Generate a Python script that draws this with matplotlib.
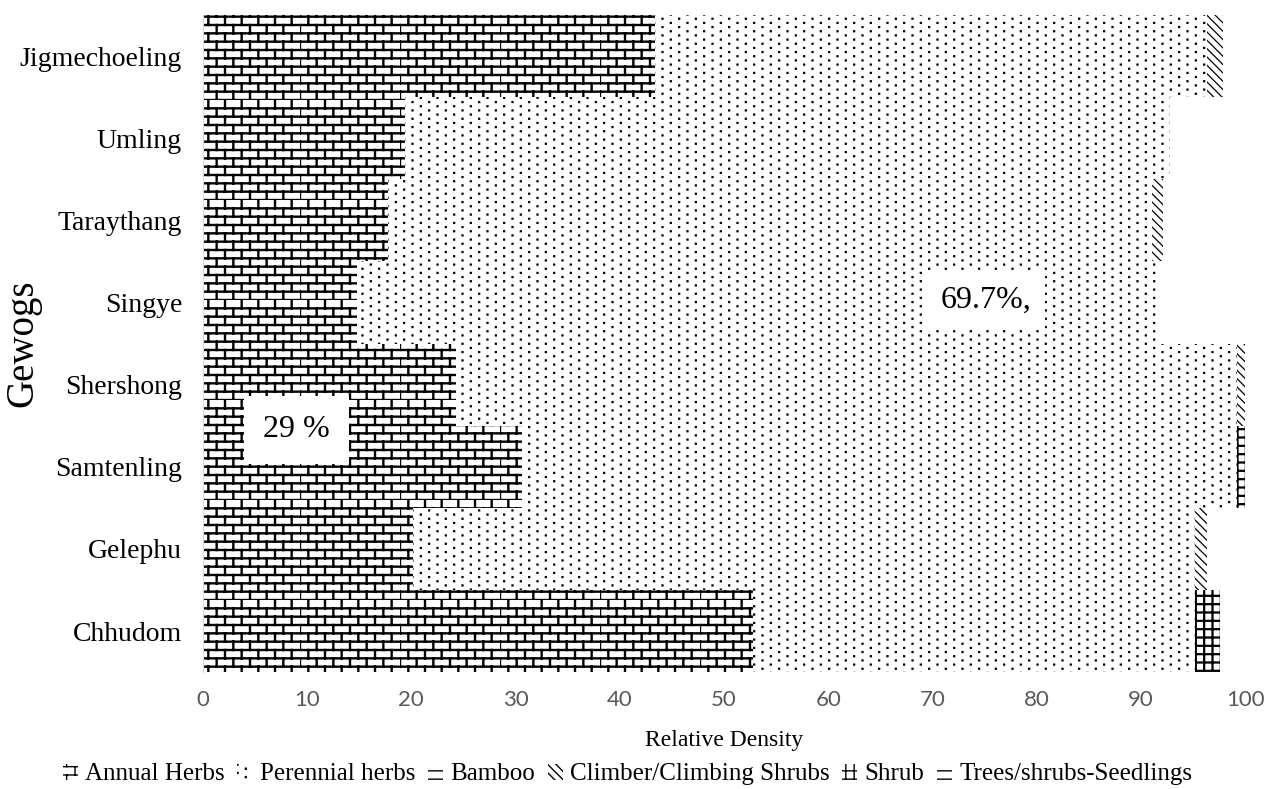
import warnings
import numpy as np
import matplotlib
matplotlib.use('Agg')
import matplotlib.pyplot as plt
from matplotlib import hatch as mhatch
from matplotlib.path import Path

warnings.filterwarnings('ignore')

# data
gewogs = ['Chhudom', 'Gelephu', 'Samtenling', 'Shershong', 'Singye',
          'Taraythang', 'Umling', 'Jigmechoeling']
annual_herbs = [52.8, 20.2, 30.6, 24.3, 14.8, 17.8, 19.4, 43.4]
perennial_herbs = [42.4, 75.0, 68.6, 74.9, 76.9, 73.3, 73.4, 52.9]
bamboo = [0, 0, 0, 0, 0, 0, 0, 0]
climber = [0, 1.1, 0, 0.8, 0, 1.0, 0, 1.6]
shrub = [2.4, 0, 1.0, 0, 0, 0, 0, 0]
seedlings = [0, 0, 0, 0, 0, 0, 0, 0]
x_ticks = [0, 10, 20, 30, 40, 50, 60, 70, 80, 90, 100]


# brick pattern for annual herbs ('b')
class BrickHatch(mhatch.HatchPatternBase):
    def __init__(self, hatch, density):
        self.rows = 12
        self.cols = 6
        on = 'b' in hatch
        self.num_vertices = (2 * self.rows + 2 * self.rows * self.cols) if on else 0

    def set_vertices_and_codes(self, vertices, codes):
        k = 0
        for i in range(self.rows):
            y0 = i / self.rows
            y1 = (i + 1) / self.rows
            vertices[k] = (0, y0)
            vertices[k + 1] = (1, y0)
            codes[k] = Path.MOVETO
            codes[k + 1] = Path.LINETO
            k += 2
            off = 0.5 / self.cols if i % 2 else 0
            for j in range(self.cols):
                x = j / self.cols + off
                vertices[k] = (x, y0)
                vertices[k + 1] = (x, y1)
                codes[k] = Path.MOVETO
                codes[k + 1] = Path.LINETO
                k += 2


# staggered dot pattern for perennial herbs ('p')
class DotHatch(mhatch.HatchPatternBase):
    def __init__(self, hatch, density):
        self.rows = 24
        self.cols = 6
        on = 'p' in hatch
        self.num_vertices = self.rows * self.cols * 5 if on else 0

    def set_vertices_and_codes(self, vertices, codes):
        s = 0.005
        k = 0
        for i in range(self.rows):
            y = (i + 0.5) / self.rows
            off = 0.5 / self.cols if i % 2 else 0
            for j in range(self.cols):
                x = (j + 0.25) / self.cols + off
                vertices[k:k + 5] = [(x - s, y - s), (x + s, y - s),
                                     (x + s, y + s), (x - s, y + s), (x - s, y - s)]
                codes[k:k + 5] = [Path.MOVETO, Path.LINETO, Path.LINETO,
                                  Path.LINETO, Path.CLOSEPOLY]
                k += 5


mhatch._hatch_types.append(BrickHatch)
mhatch._hatch_types.append(DotHatch)

plt.rcParams['font.family'] = ['Liberation Serif', 'DejaVu Serif']

fig = plt.figure(figsize=(12.68, 7.89), dpi=100)
ax = fig.add_axes([0.160, 0.148, 0.822, 0.833])

y = np.arange(len(gewogs))
series = [
    ('Annual Herbs', annual_herbs, 'b', 1.7),
    ('Perennial herbs', perennial_herbs, 'p', 0.9),
    ('Bamboo', bamboo, '--', 1.2),
    ('Climber/Climbing Shrubs', climber, '\\\\\\\\', 0.9),
    ('Shrub', shrub, '++', 1.6),
    ('Trees/shrubs-Seedlings', seedlings, '--', 1.0),
]
left = np.zeros(len(gewogs))
for name, vals, hp, hlw in series:
    plt.rcParams['hatch.linewidth'] = hlw
    bars = ax.barh(y, vals, left=left, height=1.0, color='white',
                   edgecolor='black', linewidth=0, hatch=hp, label=name)
    for b in bars:
        if hasattr(b, 'set_hatch_linewidth'):
            b.set_hatch_linewidth(hlw)
    left += np.array(vals)

ax.set_xlim(0, 100)
ax.set_ylim(-0.5, len(gewogs) - 0.5)
ax.set_yticks(y)
ax.set_yticklabels(gewogs, fontsize=20)
ax.set_xticks(x_ticks)
ax.set_xticklabels([str(t) for t in x_ticks], fontsize=16, color='#595959',
                   family=['Lato', 'DejaVu Sans'])
ax.tick_params(axis='both', length=0)
ax.tick_params(axis='x', pad=13)
ax.tick_params(axis='y', pad=15)
for s in ['top', 'right', 'bottom']:
    ax.spines[s].set_visible(False)
ax.spines['left'].set_color('#d9d9d9')

ax.set_xlabel('Relative Density', fontsize=17, labelpad=14)
ax.set_ylabel('Gewogs', fontsize=28)
ax.yaxis.set_label_coords(-0.155, 0.5)

ax.text(9.0, 2.45, '29 %', fontsize=23, ha='center', va='center',
        bbox=dict(boxstyle='square,pad=0.6', fc='white', ec='none'))
ax.text(75.1, 4.03, '69.7%,', fontsize=23, ha='center', va='center',
        bbox=dict(boxstyle='square,pad=0.45', fc='white', ec='none'))

plt.rcParams['hatch.linewidth'] = 1.0
fig.legend(loc='lower center', bbox_to_anchor=(0.495, -0.024), ncol=6,
           frameon=False, fontsize=18, handlelength=0.6, handleheight=0.6,
           handletextpad=0.3, columnspacing=0.5)

fig.savefig('out.png', dpi=100)
